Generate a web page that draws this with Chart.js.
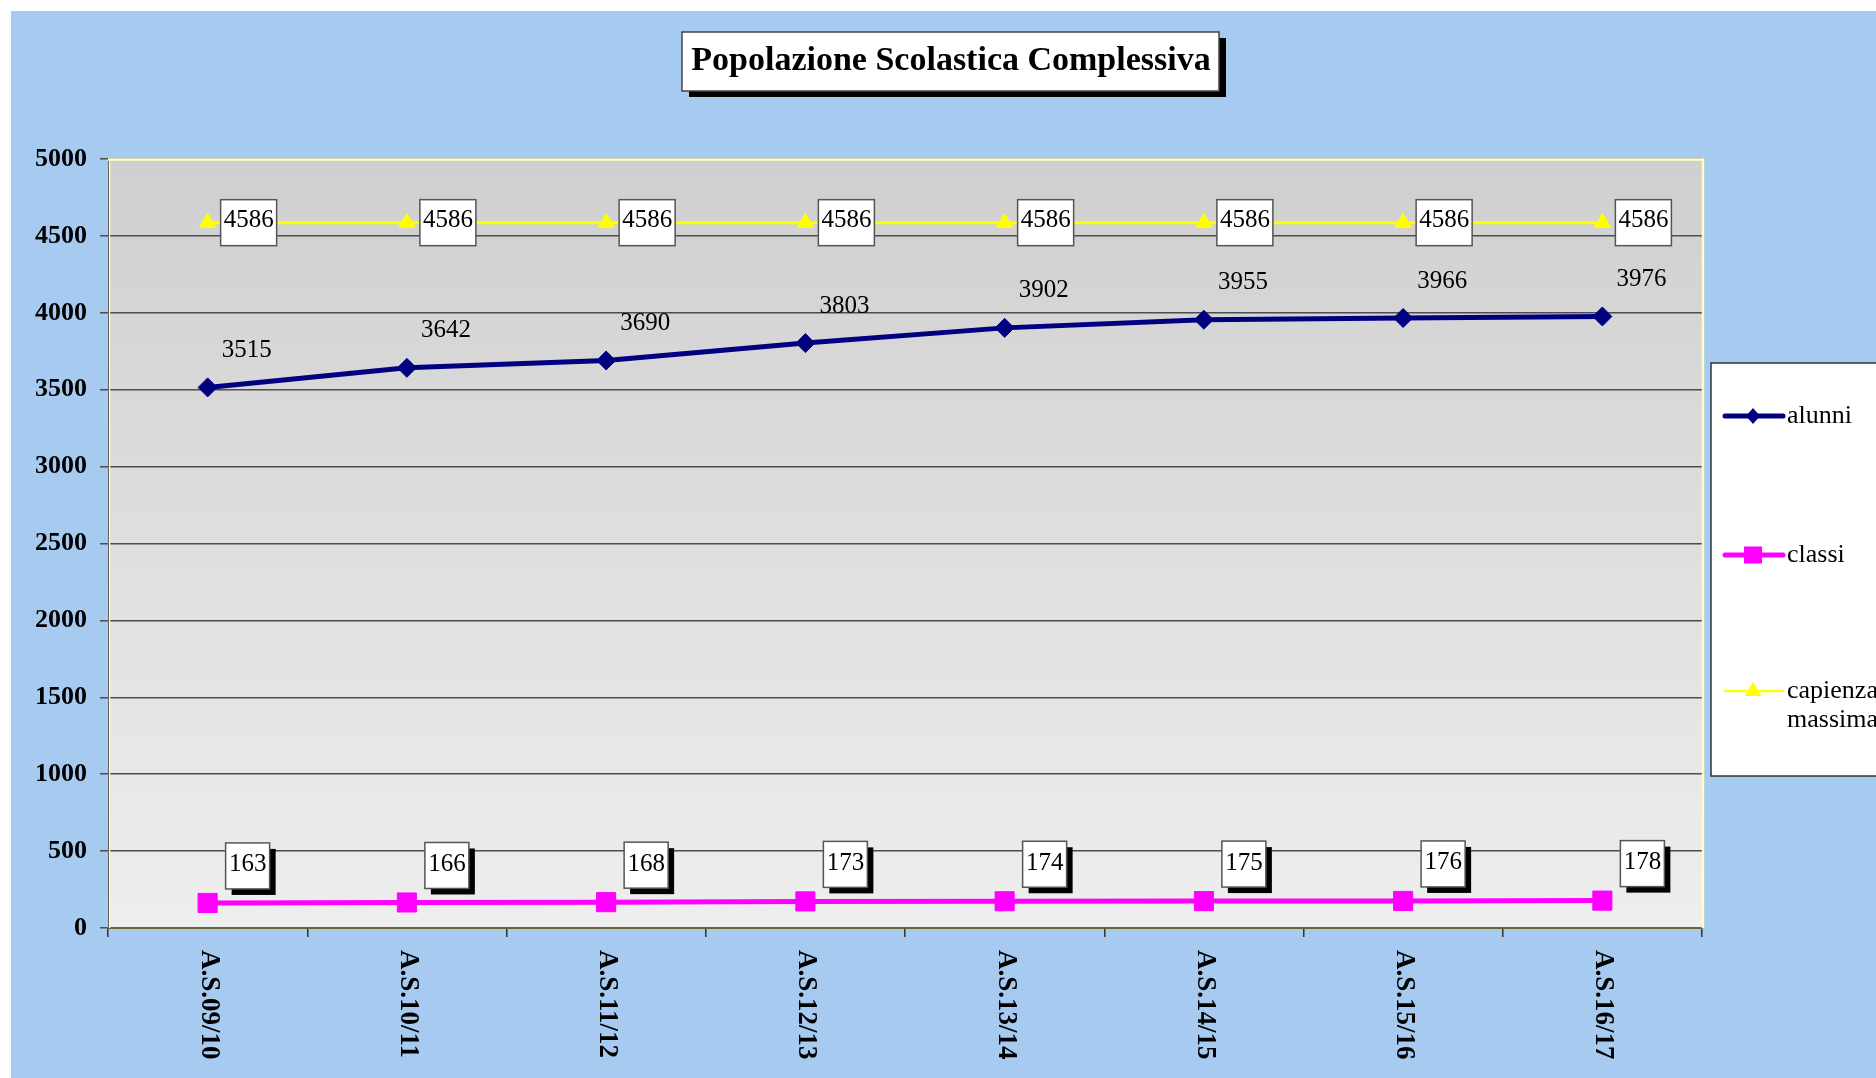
<!DOCTYPE html>
<html>
<head>
<meta charset="utf-8">
<script src="https://cdn.jsdelivr.net/npm/chart.js"></script>
<style>
    html, body { margin: 0; padding: 0; background: #fff; }
    #wrap { width: 1876px; height: 1078px; position: relative; }
</style>
</head>
<body>
<div id="wrap"><canvas id="chart"></canvas></div>
<script>
const categories = ['A.S.09/10', 'A.S.10/11', 'A.S.11/12', 'A.S.12/13', 'A.S.13/14', 'A.S.14/15', 'A.S.15/16', 'A.S.16/17'];
const alunni = [3515, 3642, 3690, 3803, 3902, 3955, 3966, 3976];
const classi = [163, 166, 168, 173, 174, 175, 176, 178];
const capienza = [4586, 4586, 4586, 4586, 4586, 4586, 4586, 4586];
const yMin = 0;
const yMax = 5000;
const yStep = 500;
const chartTitle = 'Popolazione Scolastica Complessiva';
const seriesNames = ['alunni', 'classi', 'capienza massima'];

const SERIF = '"Liberation Serif", "Times New Roman", serif';
const NAVY = '#000080';
const MAGENTA = '#ff00ff';
const YELLOW = '#ffff00';

// white label box, optional black drop shadow
function labelBox(ctx, x, y, w, h, shadow) {
    if (shadow) {
        ctx.fillStyle = '#000';
        ctx.fillRect(x + 6, y + 6, w, h);
    }
    ctx.fillStyle = '#fff';
    ctx.fillRect(x, y, w, h);
    ctx.strokeStyle = '#555';
    ctx.lineWidth = 1.5;
    ctx.strokeRect(x, y, w, h);
}

function marker(ctx, style, x, y, color) {
    ctx.fillStyle = color;
    ctx.beginPath();
    if (style === 'diamond') {
        ctx.moveTo(x, y - 8); ctx.lineTo(x + 7, y); ctx.lineTo(x, y + 8); ctx.lineTo(x - 7, y);
    } else if (style === 'square') {
        ctx.rect(x - 9, y - 8.5, 18, 17);
    } else {
        ctx.moveTo(x, y - 9); ctx.lineTo(x + 8.5, y + 5); ctx.lineTo(x - 8.5, y + 5);
    }
    ctx.closePath();
    ctx.fill();
}

const backdrop = {
    id: 'backdrop',
    beforeDraw(chart) {
        const { ctx, chartArea: a } = chart;
        ctx.save();
        ctx.fillStyle = '#fff';
        ctx.fillRect(0, 0, chart.width, chart.height);
        ctx.fillStyle = '#a6caf0';
        ctx.fillRect(11, 11, chart.width - 11, chart.height - 11);
        const g = ctx.createLinearGradient(0, a.top, 0, a.bottom);
        g.addColorStop(0, '#cfcfcf');
        g.addColorStop(1, '#eeeeee');
        ctx.fillStyle = g;
        ctx.fillRect(a.left, a.top, a.right - a.left, a.bottom - a.top);
        ctx.restore();
    }
};

const valueLabels = {
    id: 'valueLabels',
    afterDatasetsDraw(chart) {
        const ctx = chart.ctx;
        ctx.save();
        ctx.font = '25px ' + SERIF;
        ctx.textAlign = 'center';
        ctx.textBaseline = 'middle';
        chart.getDatasetMeta(0).data.forEach((p, i) => {
            ctx.fillStyle = '#000';
            ctx.fillText(String(alunni[i]), p.x + 39, p.y - 37);
        });
        chart.getDatasetMeta(1).data.forEach((p, i) => {
            const cx = p.x + 40, cy = p.y - 37;
            labelBox(ctx, cx - 22, cy - 23, 44, 46, true);
            ctx.fillStyle = '#000';
            ctx.fillText(String(classi[i]), cx, cy - 1);
        });
        chart.getDatasetMeta(2).data.forEach((p, i) => {
            labelBox(ctx, p.x + 13, p.y - 23, 56, 46, false);
            ctx.fillStyle = '#000';
            ctx.fillText(String(capienza[i]), p.x + 41, p.y - 2);
        });
        ctx.restore();
    }
};

const decorations = {
    id: 'decorations',
    afterDraw(chart) {
        const { ctx, chartArea: a } = chart;
        ctx.save();

        // light yellow frame on top and right of the plot
        ctx.strokeStyle = '#ffffc0';
        ctx.lineWidth = 2.5;
        ctx.beginPath();
        ctx.moveTo(a.left, a.top + 0.5);
        ctx.lineTo(a.right + 1, a.top + 0.5);
        ctx.lineTo(a.right + 1, a.bottom);
        ctx.stroke();
        ctx.lineWidth = 1.5;
        ctx.beginPath();
        ctx.moveTo(a.left + 1.5, a.top);
        ctx.lineTo(a.left + 1.5, a.bottom);
        ctx.stroke();

        // category labels, rotated clockwise
        const xs = chart.scales.x;
        ctx.fillStyle = '#000';
        ctx.font = 'bold 27px ' + SERIF;
        ctx.textAlign = 'left';
        ctx.textBaseline = 'middle';
        categories.forEach((c, i) => {
            ctx.save();
            ctx.translate(xs.getPixelForTick(i) + 1, a.bottom + 22);
            ctx.rotate(Math.PI / 2);
            ctx.fillText(c, 0, 0);
            ctx.restore();
        });

        // title
        ctx.fillStyle = '#000';
        ctx.fillRect(689, 38, 537, 59);
        ctx.fillStyle = '#fff';
        ctx.fillRect(682, 32, 537, 59);
        ctx.strokeStyle = '#444';
        ctx.lineWidth = 1.5;
        ctx.strokeRect(682, 32, 537, 59);
        ctx.fillStyle = '#000';
        ctx.font = 'bold 34px ' + SERIF;
        ctx.textAlign = 'center';
        ctx.textBaseline = 'middle';
        ctx.fillText(chartTitle, 951, 61);

        // legend
        ctx.fillStyle = '#fff';
        ctx.fillRect(1711, 363, 240, 413);
        ctx.strokeStyle = '#333';
        ctx.lineWidth = 1.5;
        ctx.strokeRect(1711, 363, 240, 413);
        const items = [
            { y: 416, color: NAVY, width: 5, style: 'diamond', lines: [seriesNames[0]] },
            { y: 555, color: MAGENTA, width: 5, style: 'square', lines: [seriesNames[1]] },
            { y: 691, color: YELLOW, width: 2.5, style: 'triangle', lines: seriesNames[2].split(' ') }
        ];
        ctx.font = '26px ' + SERIF;
        ctx.textAlign = 'left';
        items.forEach(it => {
            ctx.strokeStyle = it.color;
            ctx.lineWidth = it.width;
            ctx.lineCap = 'round';
            ctx.beginPath();
            ctx.moveTo(1725, it.y);
            ctx.lineTo(1783, it.y);
            ctx.stroke();
            marker(ctx, it.style, 1753, it.y, it.color);
            ctx.fillStyle = '#000';
            it.lines.forEach((t, k) => ctx.fillText(t, 1787, it.y + k * 29));
        });
        ctx.restore();
    }
};

new Chart(document.getElementById('chart'), {
    type: 'line',
    data: {
        labels: categories,
        datasets: [
            {
                label: seriesNames[0],
                data: alunni,
                borderColor: NAVY,
                backgroundColor: NAVY,
                borderWidth: 5,
                pointStyle: 'rectRot',
                pointRadius: 9.5,
                pointBorderWidth: 1,
                tension: 0
            },
            {
                label: seriesNames[1],
                data: classi,
                borderColor: MAGENTA,
                backgroundColor: MAGENTA,
                borderWidth: 5,
                pointStyle: 'rect',
                pointRadius: 13.5,
                pointBorderWidth: 1,
                tension: 0
            },
            {
                label: seriesNames[2],
                data: capienza,
                borderColor: YELLOW,
                backgroundColor: YELLOW,
                borderWidth: 3,
                pointStyle: 'triangle',
                pointRadius: 9.5,
                pointBorderWidth: 1,
                tension: 0
            }
        ]
    },
    options: {
        responsive: true,
        maintainAspectRatio: false,
        animation: false,
        layout: { padding: { top: 159, right: 174, bottom: 0, left: 0 } },
        plugins: {
            legend: { display: false },
            title: { display: false },
            tooltip: { enabled: false }
        },
        scales: {
            x: {
                offset: true,
                afterFit: s => { s.height = 150; },
                grid: {
                    offset: true,
                    drawOnChartArea: false,
                    drawTicks: true,
                    tickLength: 9,
                    color: '#333',
                    lineWidth: 1.5
                },
                border: { display: true, color: '#6b6530', width: 2 },
                ticks: { display: false }
            },
            y: {
                min: yMin,
                max: yMax,
                afterFit: s => { s.width = 108; },
                grid: {
                    color: '#4d4d4d',
                    lineWidth: 1.5,
                    tickLength: 8
                },
                border: { display: true, color: '#333', width: 1 },
                ticks: {
                    stepSize: yStep,
                    padding: 13,
                    color: '#000',
                    font: { family: SERIF, size: 26, weight: 'bold' },
                    callback: v => String(v)
                }
            }
        }
    },
    plugins: [backdrop, valueLabels, decorations]
});
</script>
</body>
</html>
